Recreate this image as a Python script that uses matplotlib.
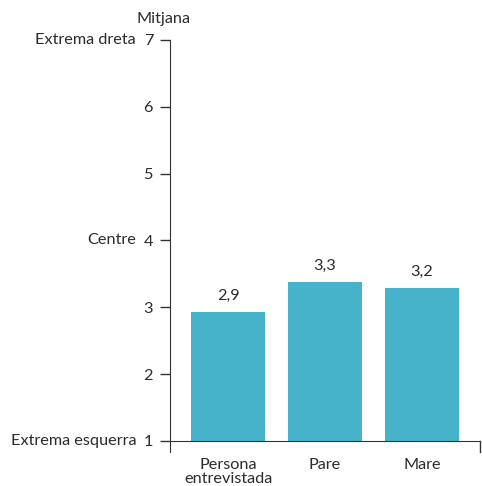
import matplotlib
matplotlib.use('Agg')
import matplotlib.pyplot as plt

# data
categories = ['Persona\nentrevistada', 'Pare', 'Mare']
values = [2.93, 3.38, 3.29]
value_labels = ['2,9', '3,3', '3,2']
y_ticks = [1, 2, 3, 4, 5, 6, 7]
y_names = {7: 'Extrema dreta', 4: 'Centre', 1: 'Extrema esquerra'}

bar_color = '#46B3CB'
text_color = '#2b2b2b'
axis_color = '#333333'
fs = 11.7

plt.rcParams['font.family'] = ['Lato', 'DejaVu Sans']
plt.rcParams['font.size'] = fs

fig = plt.figure(figsize=(4.82, 4.86), dpi=100)
ax = fig.add_axes([0.3527, 0.0926, 0.6432, 0.8251])

x = list(range(len(categories)))
ax.bar(x, values, width=0.77, color=bar_color, zorder=2)
for xi, v, lab in zip(x, values, value_labels):
    ax.text(xi, v + 0.13, lab, ha='center', va='bottom', color=text_color, fontsize=fs)

ax.set_xlim(-0.6, 2.6)
ax.set_ylim(1, 7)
ax.set_yticks(y_ticks)
ax.set_yticklabels([str(t) for t in y_ticks], color=text_color)
ax.set_xticks(x)
ax.set_xticklabels(categories, color=text_color, linespacing=1.0)
ax.tick_params(axis='x', length=0, pad=12)
ax.tick_params(axis='y', length=7.2, width=1, color=axis_color, pad=5)

for s in ['top', 'right']:
    ax.spines[s].set_visible(False)
ax.spines['left'].set_color(axis_color)
ax.spines['bottom'].set_color(axis_color)
ax.spines['left'].set_bounds(0.84, 7)

# end tick at the right of the x axis
ax.plot([2.6, 2.6], [1, 0.84], color=axis_color, lw=1, clip_on=False)

# names of the scale points, left of the numbers
for t, name in y_names.items():
    ax.annotate(name, xy=(0, t), xycoords=('axes fraction', 'data'),
                xytext=(-34, 0), textcoords='offset pixels',
                ha='right', va='center', color=text_color, fontsize=fs)

ax.text(-0.02, 1.035, 'Mitjana', transform=ax.transAxes, ha='center', va='bottom',
        color=text_color, fontsize=fs)

fig.savefig('out.png', dpi=100)
